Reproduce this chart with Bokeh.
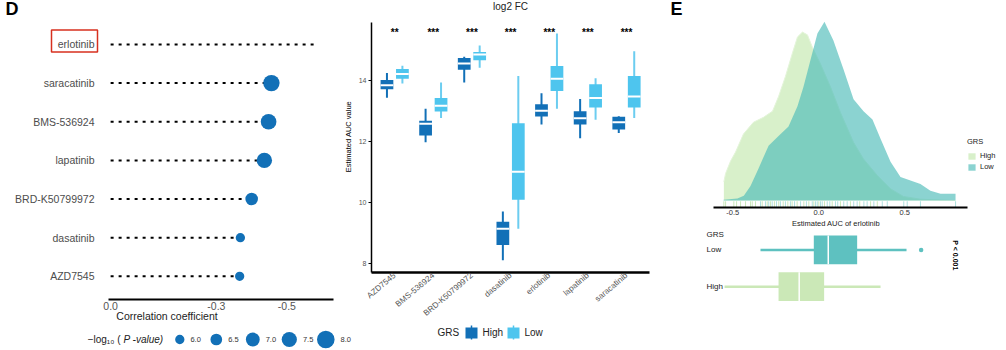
import numpy as np
from bokeh.plotting import figure
from bokeh.models import (Range1d, FixedTicker, Legend, LegendItem, GridBox,
                          ColumnDataSource, LinearInterpolator)
from bokeh.transform import transform
from bokeh.core.properties import value
from bokeh.embed import file_html
from bokeh.resources import INLINE

FONT = "Liberation Sans"
BLUE = "#1270B7"
LIGHT_BLUE = "#4EC5EE"
GREEN = "#C7E9B4"
TEAL = "#4DBBB9"
BOX_GREEN = "#CBE8B7"
BOX_TEAL = "#5EC1C0"

# ---------------- Panel D data ----------------
D_DRUGS = ["erlotinib", "saracatinib", "BMS-536924", "lapatinib",
           "BRD-K50799972", "dasatinib", "AZD7545"]
D_CORR = [-0.576, -0.456, -0.448, -0.436, -0.400, -0.368, -0.366]
D_LOGP = [None, 7.75, 7.6, 7.55, 6.7, 5.4, 5.35]
D_HIGHLIGHT = "erlotinib"
D_TICKS = [0.0, -0.3, -0.5]
D_TICK_LABELS = ["0.0", "-0.3", "-0.5"]
SIZE_BREAKS = [6.0, 6.5, 7.0, 7.5, 8.0]

# ---------------- Middle boxplot data ----------------
M_DRUGS = ["AZD7545", "BMS-536924", "BRD-K50799972", "dasatinib",
           "erlotinib", "lapatinib", "saracatinib"]
M_SIG = ["**", "***", "***", "***", "***", "***", "***"]
HIGH_LO = [13.42, 11.97, 13.92, 8.11, 12.55, 12.10, 12.27]
HIGH_Q1 = [13.70, 12.19, 14.34, 8.61, 12.81, 12.55, 12.38]
HIGH_MED = [13.83, 12.57, 14.54, 9.14, 13.00, 12.75, 12.62]
HIGH_Q3 = [14.00, 12.67, 14.72, 9.37, 13.21, 12.98, 12.80]
HIGH_HI = [14.23, 13.06, 14.76, 9.70, 13.57, 13.38, 12.82]
LOW_LO = [13.89, 12.76, 14.40, 9.14, 13.06, 12.70, 12.76]
LOW_Q1 = [14.04, 12.97, 14.65, 10.09, 13.64, 13.10, 13.10]
LOW_MED = [14.20, 13.16, 14.84, 11.00, 14.04, 13.41, 13.46]
LOW_Q3 = [14.36, 13.41, 14.92, 12.59, 14.46, 13.86, 14.13]
LOW_HI = [14.47, 13.92, 15.13, 14.13, 15.52, 14.06, 14.94]
M_YTICKS = [8, 10, 12, 14]
M_TITLE = "log2 FC"
GROUPS = ["High", "Low"]

# ---------------- Panel E data ----------------
HIGH_DENS_X = [-0.552, -0.542, -0.513, -0.484, -0.438, -0.380, -0.322, -0.269,
               -0.234, -0.194, -0.153, -0.124, -0.095, -0.066, -0.037, 0.010,
               0.068, 0.126, 0.202, 0.260, 0.341, 0.417, 0.492, 0.591, 0.795]
HIGH_DENS_Y = [0.27, 0.39, 0.57, 0.70, 0.96, 1.13, 1.20, 1.29,
               1.50, 1.79, 2.13, 2.36, 2.43, 2.39, 2.21, 1.97,
               1.64, 1.27, 0.84, 0.60, 0.36, 0.17, 0.06, 0.02, 0.00]
LOW_DENS_X = [-0.554, -0.473, -0.436, -0.397, -0.351, -0.292, -0.234, -0.176,
              -0.124, -0.089, -0.048, -0.008, 0.033, 0.085, 0.144, 0.202,
              0.260, 0.312, 0.359, 0.417, 0.475, 0.533, 0.591, 0.649, 0.708, 0.795]
LOW_DENS_Y = [0.01, 0.03, 0.07, 0.21, 0.46, 0.79, 0.93, 1.07,
              1.36, 1.64, 2.03, 2.41, 2.58, 2.31, 1.89, 1.46,
              1.29, 1.17, 0.89, 0.56, 0.34, 0.29, 0.24, 0.14, 0.10, 0.10]
RUG_HIGH = [-0.552, -0.542, -0.494, -0.478, -0.455, -0.426, -0.397, -0.387,
            -0.368, -0.329, -0.300, -0.281, -0.258, -0.233, -0.207, -0.180,
            -0.155, -0.126, -0.087, -0.058, -0.029, 0.000, 0.033, 0.078,
            0.126, 0.184, 0.238, 0.301, 0.340]
RUG_LOW = [-0.339, -0.310, -0.291, -0.271, -0.246, -0.223, -0.194, -0.165,
           -0.141, -0.106, -0.072, -0.038, -0.019, -0.009, 0.010, 0.020,
           0.049, 0.064, 0.097, 0.110, 0.145, 0.165, 0.203, 0.223, 0.262,
           0.281, 0.320, 0.369, 0.398, 0.494, 0.514, 0.591, 0.795]
E_BOX_LO = [-0.548, -0.339]
E_BOX_Q1 = [-0.234, -0.029]
E_BOX_MED = [-0.114, 0.055]
E_BOX_Q3 = [0.031, 0.223]
E_BOX_HI = [0.359, 0.510]
E_OUTLIERS_LOW = [0.595]
E_TICKS = [-0.5, 0.0, 0.5]
E_TICK_LABELS = ["-0.5", "0.0", "0.5"]
E_XLABEL = "Estimated AUC of erlotinib"
E_PTEXT = "P < 0.001"

# size scale for -log10(P)  (style: marker diameters in px)
SIZE_PX = [9.3, 11.7, 13.8, 15.2, 17.6]
size_map = LinearInterpolator(x=SIZE_BREAKS, y=SIZE_PX, clip=False)


def fig(**kw):
    f = figure(output_backend="svg", toolbar_location=None, **kw)
    f.grid.visible = False
    f.outline_line_color = None
    f.background_fill_color = "white"
    f.border_fill_color = "white"
    try:
        f.frame_align = False
    except Exception:
        pass
    return f


def style_axis(ax, size, color):
    ax.major_label_text_font = FONT
    ax.major_label_text_font_size = size
    ax.major_label_text_color = color
    ax.axis_label_text_font = FONT
    ax.axis_label_text_font_style = "normal"
    ax.minor_tick_line_color = None


# ======================= Panel D =======================
# layout: frame covers x 0..333 px, y 0..299 px of a 340x324 canvas
D_PXU_X = 352.6          # px per correlation unit
D_X_AT0 = 0.006 + 108 / D_PXU_X   # value at left canvas edge
D_PXU_Y = 38.67
D_Y_TOP = 7.6 + 20.8 / D_PXU_Y
pD = fig(width=340, height=324, x_range=Range1d(D_X_AT0, D_X_AT0 - 333 / D_PXU_X),
         y_range=Range1d(0.4, D_Y_TOP), y_axis_location=None,
         min_border_left=0, min_border_right=7, min_border_top=0, min_border_bottom=25)
n = len(D_DRUGS)
rows = [n - k for k in range(n)]
pD.segment(x0=[0.0] * n, y0=rows, x1=D_CORR, y1=rows, line_color="black",
           line_width=2, line_dash="3 5")
dot_idx = [k for k in range(n) if D_LOGP[k] is not None]
srcD = ColumnDataSource(dict(x=[D_CORR[k] for k in dot_idx], y=[rows[k] for k in dot_idx],
                             logp=[D_LOGP[k] for k in dot_idx]))
pD.scatter(x="x", y="y", size=transform("logp", size_map), source=srcD,
           fill_color=BLUE, line_color=None)
# drug names
lab_x = D_X_AT0 - 94 / D_PXU_X
pD.text(x=[lab_x] * n, y=rows, text=D_DRUGS, text_font=value(FONT), text_font_size="10.5px",
        text_color="#4d4d4d", text_align="right", text_baseline="middle")
hk = D_DRUGS.index(D_HIGHLIGHT)
pD.rect(x=[D_X_AT0 - 74 / D_PXU_X], y=[rows[hk] + 3.5 / D_PXU_Y], width=46, height=22,
        width_units="screen", height_units="screen", fill_color=None,
        line_color="#D7301F", line_width=1.5)
pD.text(x=[D_X_AT0 - 5 / D_PXU_X], y=[D_Y_TOP - 9 / D_PXU_Y], text=["D"], text_font=value(FONT),
        text_font_size="18px", text_font_style="bold", text_color="black",
        text_align="left", text_baseline="middle")

xa = pD.xaxis[0]
xa.bounds = (-0.632, 0.006)
xa.ticker = FixedTicker(ticks=D_TICKS)
xa.major_label_overrides = dict(zip(D_TICKS, D_TICK_LABELS))
xa.axis_label = "Correlation coefficient"
style_axis(xa, "10.5px", "#555555")
xa.axis_label_text_font_size = "10.5px"
xa.axis_label_text_color = "#222222"
xa.major_tick_out = 0
xa.major_tick_in = 0
xa.major_label_standoff = 2
xa.axis_label_standoff = -3
xa.axis_line_width = 2
xa.major_tick_line_color = None

# ======================= Middle boxplot =======================
# canvas 325x324 at page x=340; frame x 28..325, y 0..273
M_PXU_X = 39.03
M_PXU_Y = 30.69
M_YMIN = 7.707
M_YTOP = M_YMIN + 273 / M_PXU_Y
pM = fig(width=325, height=324, x_range=Range1d(0.4, 0.4 + 297 / M_PXU_X),
         y_range=Range1d(M_YMIN, M_YTOP),
         min_border_left=28, min_border_right=0, min_border_top=0, min_border_bottom=51)
m = len(M_DRUGS)
pos = list(range(1, m + 1))
DODGE = 0.2
BW = 0.33
xh = [p - DODGE for p in pos]
xl = [p + DODGE for p in pos]
for xs, lo, q1, med, q3, hi, col, wcol in [
        (xh, HIGH_LO, HIGH_Q1, HIGH_MED, HIGH_Q3, HIGH_HI, BLUE, BLUE),
        (xl, LOW_LO, LOW_Q1, LOW_MED, LOW_Q3, LOW_HI, LIGHT_BLUE, "#6CCDF0")]:
    pM.segment(x0=xs, y0=lo, x1=xs, y1=hi, line_color=wcol, line_width=2)
    pM.vbar(x=xs, width=BW, bottom=q1, top=q3, fill_color=col, line_color=None)
    pM.segment(x0=[x - BW / 2 for x in xs], y0=med, x1=[x + BW / 2 for x in xs], y1=med,
               line_color="white", line_width=2)
pM.text(x=pos, y=[15.56] * m, text=M_SIG, text_font=value(FONT), text_font_size="10px",
        text_font_style="bold", text_color="black", text_align="center",
        text_baseline="middle")
pM.text(x=[4.0], y=[M_YTOP - 6 / M_PXU_Y], text=[M_TITLE], text_font=value(FONT),
        text_font_size="10px", text_color="#222222", text_align="center",
        text_baseline="middle")

xa = pM.xaxis[0]
xa.bounds = (0.4, 7.6)
xa.ticker = FixedTicker(ticks=pos)
xa.major_label_overrides = {p: d for p, d in zip(pos, M_DRUGS)}
xa.major_label_orientation = 0.7
style_axis(xa, "8.2px", "#555555")
xa.major_tick_out = 0
xa.major_tick_in = 0
xa.major_label_standoff = 2
xa.axis_line_width = 2.5
xa.major_tick_line_color = None

ya = pM.yaxis[0]
ya.bounds = (M_YMIN, 15.886)
ya.ticker = FixedTicker(ticks=M_YTICKS)
ya.axis_label = "Estimated AUC value"
style_axis(ya, "7px", "#555555")
ya.axis_label_text_font_size = "7.5px"
ya.axis_label_text_color = "black"
ya.axis_label_standoff = 3
ya.major_label_standoff = 2
ya.major_tick_out = 3
ya.major_tick_in = 0
ya.major_tick_line_color = "black"
ya.axis_line_width = 1.5

# ======================= Panel E: density =======================
# canvas 341x230 at page x=665; frame x 0..341, y 0..209
E_PXU_X = 172.0
E_X0 = 818.3 - 665          # px of value 0 within the canvas
E_RANGE = Range1d(-E_X0 / E_PXU_X, (341 - E_X0) / E_PXU_X)
E_PXU_D = 70.0
pDen = fig(width=341, height=230, x_range=E_RANGE,
           y_range=Range1d(-7 / E_PXU_D, 202 / E_PXU_D), y_axis_location=None,
           min_border_left=0, min_border_right=0, min_border_top=0, min_border_bottom=21)
rH = pDen.varea(x=HIGH_DENS_X, y1=[0.0] * len(HIGH_DENS_X), y2=HIGH_DENS_Y,
                fill_color=GREEN, fill_alpha=0.7)
pDen.line(x=HIGH_DENS_X, y=HIGH_DENS_Y, line_color="#E4F4DA", line_width=1)
rL = pDen.varea(x=LOW_DENS_X, y1=[0.0] * len(LOW_DENS_X), y2=LOW_DENS_Y,
                fill_color=TEAL, fill_alpha=0.65)
pDen.segment(x0=RUG_HIGH, y0=[-0.1] * len(RUG_HIGH), x1=RUG_HIGH, y1=[-0.01] * len(RUG_HIGH),
             line_color="#A9D98F", line_alpha=0.6, line_width=1)
pDen.segment(x0=RUG_LOW, y0=[-0.1] * len(RUG_LOW), x1=RUG_LOW, y1=[-0.01] * len(RUG_LOW),
             line_color=TEAL, line_alpha=0.45, line_width=1)
pDen.text(x=[(670 - 818.3) / E_PXU_X], y=[(202 - 8.5) / E_PXU_D], text=["E"],
          text_font=value(FONT), text_font_size="18px", text_font_style="bold",
          text_color="black", text_align="left", text_baseline="middle")
xa = pDen.xaxis[0]
xa.bounds = (-0.614, 0.863)
xa.ticker = FixedTicker(ticks=E_TICKS)
xa.major_label_overrides = dict(zip(E_TICKS, E_TICK_LABELS))
xa.axis_label = E_XLABEL
style_axis(xa, "7.5px", "#333333")
xa.axis_label_text_font_size = "7.5px"
xa.axis_label_text_color = "#222222"
xa.major_tick_out = 0
xa.major_tick_in = 0
xa.axis_label_standoff = 1
xa.major_label_standoff = 2
xa.axis_line_width = 2
xa.major_tick_line_color = None

legE = Legend(items=[LegendItem(label=GROUPS[0], renderers=[rH]),
                     LegendItem(label=GROUPS[1], renderers=[rL])],
              title="GRS", location=(302, 36), orientation="vertical")
legE.title_text_font = FONT
legE.title_text_font_size = "7.5px"
legE.title_text_font_style = "normal"
legE.title_text_color = "#222222"
legE.title_standoff = 5
legE.label_text_font = FONT
legE.label_text_font_size = "7.5px"
legE.label_text_color = "#222222"
legE.glyph_width = 9
legE.glyph_height = 8
legE.label_height = 8
legE.label_standoff = 4
legE.spacing = 2
legE.padding = 0
legE.margin = 0
legE.border_line_color = None
legE.background_fill_alpha = 0
pDen.add_layout(legE)

# ======================= Panel E: boxplot =======================
# canvas 341x94 at page y=230; Low row at 19.4 px from top, 36.8 px per row
EB_PXU = 36.8
EB_TOP = 2 + 19.4 / EB_PXU
pEb = fig(width=341, height=94, x_range=E_RANGE,
          y_range=Range1d(EB_TOP - 94 / EB_PXU, EB_TOP),
          x_axis_location=None, y_axis_location=None, min_border=0)
ey = [1, 2]
ecols = [BOX_GREEN, BOX_TEAL]
EBH = 0.78
pEb.segment(x0=E_BOX_LO, y0=ey, x1=E_BOX_HI, y1=ey, line_color=ecols, line_width=2.5)
pEb.hbar(y=ey, height=EBH, left=E_BOX_Q1, right=E_BOX_Q3, fill_color=ecols, line_color=None)
pEb.segment(x0=E_BOX_MED, y0=[v - EBH / 2 for v in ey], x1=E_BOX_MED,
            y1=[v + EBH / 2 for v in ey], line_color="white", line_width=1.5)
pEb.scatter(x=E_OUTLIERS_LOW, y=[2] * len(E_OUTLIERS_LOW), size=4.5,
            fill_color=BOX_TEAL, line_color=None)
pEb.text(x=[0.795], y=[1.85], text=[E_PTEXT], angle=-np.pi / 2, text_font=value(FONT),
         text_font_size="7px", text_font_style="bold", text_color="black",
         text_align="center", text_baseline="middle")
lbl_x = (706 - 818.3) / E_PXU_X
pEb.text(x=[lbl_x] * 2, y=ey, text=GROUPS, text_font=value(FONT), text_font_size="8px",
         text_color="#222222", text_align="left", text_baseline="middle")
pEb.text(x=[lbl_x], y=[EB_TOP - 3.5 / EB_PXU], text=["GRS"], text_font=value(FONT),
         text_font_size="8px", text_color="#222222", text_align="left",
         text_baseline="middle")

# ======================= Bottom strip with legends =======================
pB = fig(width=1006, height=26, x_range=Range1d(0, 1006), y_range=Range1d(0, 26),
         x_axis_location=None, y_axis_location=None, min_border=0)
pB.text(x=[120], y=[11], text=["\u2212log\u2081\u2080 ("], text_font=value(FONT),
        text_font_size="10px", text_color="#222222", text_align="right", text_baseline="middle")
pB.text(x=[123], y=[11], text=["P -value)"], text_font=value(FONT), text_font_size="10px",
        text_font_style="italic", text_color="#222222", text_align="left",
        text_baseline="middle")
lx = [179.3 + 36.5 * i for i in range(len(SIZE_BREAKS))]
srcS = ColumnDataSource(dict(x=lx, y=[11] * len(lx), b=SIZE_BREAKS))
pB.scatter(x="x", y="y", size=transform("b", size_map), source=srcS,
           fill_color=BLUE, line_color=None)
pB.text(x=[cx + np.interp(b, SIZE_BREAKS, SIZE_PX) / 2 + 6 for cx, b in zip(lx, SIZE_BREAKS)],
        y=[11] * len(lx), text=[f"{b:.1f}" for b in SIZE_BREAKS], text_font=value(FONT),
        text_font_size="7.5px", text_color="#333333", text_align="left",
        text_baseline="middle")
pB.text(x=[437], y=[18], text=["GRS"], text_font=value(FONT), text_font_size="10px",
        text_color="#222222", text_align="left", text_baseline="middle")
kx = [471 + 42 * i for i in range(len(GROUPS))]
pB.segment(x0=kx, y0=[11] * 2, x1=kx, y1=[25] * 2, line_color=[BLUE, LIGHT_BLUE], line_width=1.5)
pB.rect(x=kx, y=[17.5] * 2, width=12, height=11, fill_color=[BLUE, LIGHT_BLUE], line_color=None)
pB.text(x=[k + 11 for k in kx], y=[18] * 2, text=GROUPS, text_font=value(FONT),
        text_font_size="10px", text_color="#222222", text_align="left", text_baseline="middle")

layout = GridBox(children=[(pD, 0, 0, 2, 1), (pM, 0, 1, 2, 1), (pDen, 0, 2),
                           (pEb, 1, 2), (pB, 2, 0, 1, 3)], spacing=0)
open("out.html", "w").write(file_html(layout, INLINE))
